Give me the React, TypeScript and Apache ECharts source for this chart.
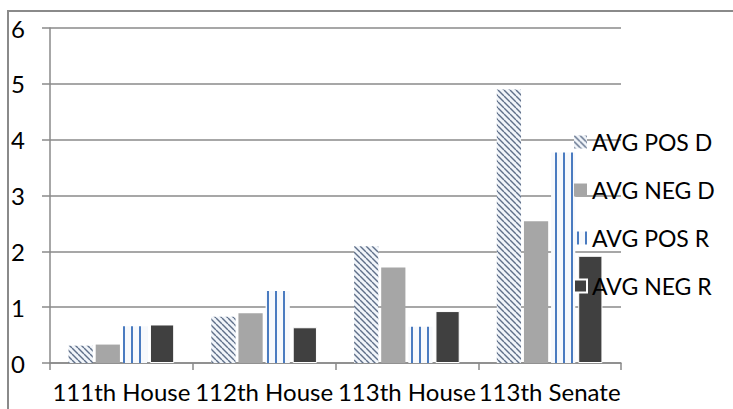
import React, { useEffect, useRef } from "react";
import * as echarts from "echarts";

const categories = ["111th House", "112th House", "113th House", "113th Senate"];
const seriesNames = ["AVG POS D", "AVG NEG D", "AVG POS R", "AVG NEG R"];
const avgPosD = [0.31, 0.83, 2.09, 4.9];
const avgNegD = [0.33, 0.89, 1.71, 2.54];
const avgPosR = [0.66, 1.29, 0.65, 3.77];
const avgNegR = [0.69, 0.64, 0.93, 1.92];
const yTicks = { min: 0, max: 6, interval: 1 };

function makeDiag(): any {
  const c = document.createElement("canvas");
  c.width = 6;
  c.height = 6;
  const ctx = c.getContext("2d")!;
  ctx.fillStyle = "#f1f5fa";
  ctx.fillRect(0, 0, 6, 6);
  ctx.strokeStyle = "#607089";
  ctx.lineWidth = 1.4;
  for (const off of [-6, 0, 6]) {
    ctx.beginPath();
    ctx.moveTo(off, 0);
    ctx.lineTo(off + 6, 6);
    ctx.stroke();
  }
  return { image: c, repeat: "repeat", imageWidth: 6, imageHeight: 6 };
}

function makeVert(): any {
  const c = document.createElement("canvas");
  c.width = 8;
  c.height = 8;
  const ctx = c.getContext("2d")!;
  ctx.fillStyle = "#f7f9fc";
  ctx.fillRect(0, 0, 8, 8);
  ctx.fillStyle = "#4a7bc0";
  ctx.fillRect(3, 0, 2, 8);
  return { image: c, repeat: "repeat", imageWidth: 8, imageHeight: 8 };
}

export default function App() {
  const ref = useRef<HTMLDivElement>(null);
  useEffect(() => {
    if (!ref.current) return;
    const chart = echarts.init(ref.current, null, { renderer: "svg" });
    const font = "Lato";
    const values = [avgPosD, avgNegD, avgPosR, avgNegR];
    const colors = [makeDiag(), "#a6a6a6", makeVert(), "#404040"];
    chart.setOption({
      animation: false,
      backgroundColor: "#ffffff",
      textStyle: { fontFamily: font },
      graphic: [
        {
          type: "rect",
          shape: { x: 8, y: 11, width: 740, height: 420 },
          style: { fill: "none", stroke: "#8a8a8a", lineWidth: 2 },
          z: 0,
        },
      ],
      grid: { left: 50, right: 112, top: 28, bottom: 46 },
      legend: {
        orient: "vertical",
        left: 573,
        top: 130,
        padding: 0,
        itemWidth: 13,
        itemHeight: 13,
        itemGap: 24,
        icon: "rect",
        textStyle: { fontFamily: font, fontSize: 23, color: "#000", lineHeight: 24 },
        data: seriesNames,
      },
      xAxis: {
        type: "category",
        data: categories,
        axisLine: { lineStyle: { color: "#8a8a8a", width: 1.5 } },
        axisTick: { show: true, length: 7, lineStyle: { color: "#8a8a8a", width: 1.5 } },
        axisLabel: { fontFamily: font, fontSize: 24, color: "#000", margin: 16, interval: 0 },
      },
      yAxis: {
        type: "value",
        min: yTicks.min,
        max: yTicks.max,
        interval: yTicks.interval,
        axisLine: { show: true, lineStyle: { color: "#8a8a8a", width: 1.5 } },
        axisTick: { show: true, length: 8, lineStyle: { color: "#8a8a8a", width: 1.5 } },
        splitLine: { lineStyle: { color: "#8a8a8a", width: 1.5 } },
        axisLabel: { fontFamily: font, fontSize: 24, color: "#000", margin: 25 },
      },
      series: seriesNames.map((name, i) => ({
        name,
        type: "bar",
        data: values[i],
        barGap: "12%",
        barCategoryGap: "26%",
        itemStyle: { color: colors[i], borderColor: "#ffffff", borderWidth: i === 3 ? 1 : 0 },
      })),
    });
    return () => chart.dispose();
  }, []);
  return (
    <div
      ref={ref}
      style={{ position: "fixed", left: 0, top: 0, width: 733, height: 409 }}
    />
  );
}
